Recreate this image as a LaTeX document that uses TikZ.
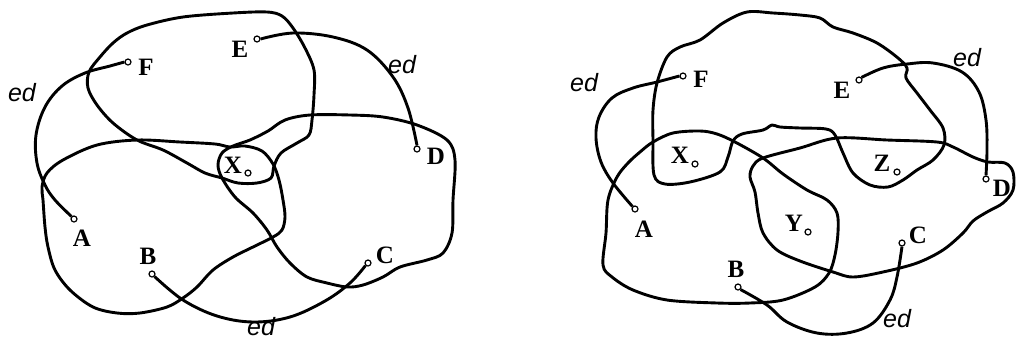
\documentclass[tikz,border=0pt]{standalone}
\usepackage{fontspec}
\setmainfont{Liberation Serif}
\newfontfamily\edfam{Liberation Sans}
\newcommand\labfont{\fontsize{25}{25}\selectfont\bfseries}
\newcommand\edfont{\edfam\itshape\fontsize{25}{25}\selectfont}
\tikzset{
  blob/.style={line width=2.9pt, line join=round},
  edarc/.style={line width=2.9pt},
  pt/.style={circle, draw, line width=1.2pt, minimum size=6pt, inner sep=0pt},
  lab/.style={font=\labfont, inner sep=0pt},
  edlab/.style={font=\edfont, inner sep=0pt}
}
\begin{document}
\begin{tikzpicture}[x=1pt,y=-1pt]
\useasboundingbox (0,0) rectangle (1016,341);
% ================= LEFT DIAGRAM =================
% top blob (E,F)
\draw[blob] plot[smooth cycle, tension=0.55] coordinates {
 (309,135) (297,143) (281,153) (274,166) (271,178) (257,183) (238,183) (222,178)
 (205,173) (187,163) (163,150) (137,140) (113,123) (97,105) (88,88) (89,72)
 (100,57) (113,43) (127,33) (147,25) (183,17) (233,13) (267,12) (282,16)
 (293,28) (305,48) (314,70) (314,95) (312,120)};
% bottom-left blob (A,B)
\draw[blob] plot[smooth cycle, tension=0.55] coordinates {
 (230,147) (245,146) (262,151) (273,164) (279,180) (283,200) (285,217) (282,230)
 (273,237) (253,247) (233,257) (213,270) (197,287) (183,298) (167,307) (140,313)
 (117,313) (93,307) (70,290) (55,270) (48,247) (45,227) (43,200) (42,187)
 (47,173) (63,160) (97,145) (137,140) (180,142) (215,144)};
% right blob (C,D)
\draw[blob] plot[smooth cycle, tension=0.55] coordinates {
 (222,178) (218,165) (222,153) (233,146) (250,140) (268,131) (285,120)
 (310,115) (350,115) (383,117) (417,125) (447,140) (455,160) (453,200) (452,233)
 (443,253) (427,260) (400,267) (383,277) (363,285) (347,287) (327,283) (307,277)
 (290,263) (277,247) (267,230) (253,213) (235,197)};
% points
\node[pt] (lF) at (128,62) {};
\node[pt] (lE) at (257,39) {};
\node[pt] (lD) at (417,149) {};
\node[pt] (lC) at (368,263) {};
\node[pt] (lB) at (152,274) {};
\node[pt] (lA) at (74,219) {};
\node[pt] (lX) at (248,173) {};
\node[lab] (tlF) at (146,67) {F};
\node[lab] (tlE) at (240,49) {E};
\node[lab] (tlD) at (436,156) {D};
\node[lab] (tlC) at (385,255) {C};
\node[lab] (tlB) at (148,256) {B};
\node[lab] (tlA) at (82,238) {A};
\node[lab] (tlX) at (233,165) {X};
% ed arcs
\draw[edarc] plot[smooth, tension=0.6] coordinates {(lF.west) (110,66) (85,73) (62,86) (45,107) (36,135) (37,163) (45,185) (55,200) (lA.north west)};
\draw[edarc] plot[smooth, tension=0.6] coordinates {(lE.east) (293,33) (333,37) (367,50) (393,77) (408,108) (lD.north)};
\draw[edarc] plot[smooth, tension=0.6] coordinates {(lB.south east) (183,300) (217,316) (253,322) (290,317) (325,301) (350,283) (lC.south west)};
\node[edlab] (elFA) at (22,93) {ed};
\node[edlab] (elED) at (402,65) {ed};
\node[edlab] (elBC) at (261,327) {ed};
% ================= RIGHT DIAGRAM =================
% top blob (F,E,X,Z)
\draw[blob] plot[smooth cycle, tension=0.55] coordinates {
 (653,140) (653,110) (657,83) (667,57) (680,47) (700,40) (723,23) (747,12)
 (773,13) (800,15) (820,18) (833,27) (853,33) (877,43) (898,58) (907,68)
 (906,78) (917,93) (930,110) (943,128) (944,145) (933,160) (917,170) (903,180)
 (888,187) (870,185) (853,173) (843,153) (835,135) (826,129) (800,128) (780,127)
 (772,125) (763,130) (742,134) (733,141) (728,157) (720,172) (690,182) (665,184)
 (654,175)};
% bottom-left blob (A,B,X,Y)
\draw[blob] plot[smooth cycle, tension=0.55] coordinates {
 (617,177) (628,163) (640,152) (653,142) (673,133) (700,131) (717,134) (735,142)
 (763,158) (783,174) (807,190) (827,200) (837,213) (838,232) (835,255) (829,273)
 (815,287) (783,300) (750,303) (717,303) (667,300) (633,290) (612,277) (603,265)
 (606,233) (608,200)};
% right blob (C,D,Y,Z)
\draw[blob] plot[smooth cycle, tension=0.55] coordinates {
 (750,177) (753,166) (763,158) (800,148) (837,138) (887,140) (937,142) (953,147)
 (973,157) (988,162) (1005,163) (1013,172) (1013,190) (1003,203) (987,212) (973,221)
 (963,233) (943,250) (917,263) (883,272) (853,277) (833,272) (800,261) (777,250)
 (763,233) (758,213) (755,192)};
% points
\node[pt] (rF) at (683,76) {};
\node[pt] (rE) at (859,80) {};
\node[pt] (rD) at (986,179) {};
\node[pt] (rC) at (902,243) {};
\node[pt] (rB) at (738,287) {};
\node[pt] (rA) at (635,209) {};
\node[pt] (rX) at (695,164) {};
\node[pt] (rY) at (808,232) {};
\node[pt] (rZ) at (897,172) {};
\node[lab] (trF) at (701,79) {F};
\node[lab] (trE) at (842,90) {E};
\node[lab] (trD) at (1002,188) {D};
\node[lab] (trC) at (918,235) {C};
\node[lab] (trB) at (736,269) {B};
\node[lab] (trA) at (644,229) {A};
\node[lab] (trX) at (680,155) {X};
\node[lab] (trY) at (794,223) {Y};
\node[lab] (trZ) at (882,163) {Z};
% ed arcs
\draw[edarc] plot[smooth, tension=0.6] coordinates {(rF.west) (657,82) (633,88) (612,98) (599,117) (596,138) (601,162) (613,183) (rA.north west)};
\draw[edarc] plot[smooth, tension=0.6] coordinates {(rE.north east) (883,68) (907,64) (933,63) (962,72) (979,92) (986,120) (987,150) (rD.north)};
\draw[edarc] plot[smooth, tension=0.6] coordinates {(rB.south east) (767,305) (787,322) (817,333) (847,333) (873,323) (890,300) (897,277) (rC.south)};
\node[edlab] (erFA) at (584,83) {ed};
\node[edlab] (erED) at (967,58) {ed};
\node[edlab] (erBC) at (897,319) {ed};
\end{tikzpicture}
\end{document}
